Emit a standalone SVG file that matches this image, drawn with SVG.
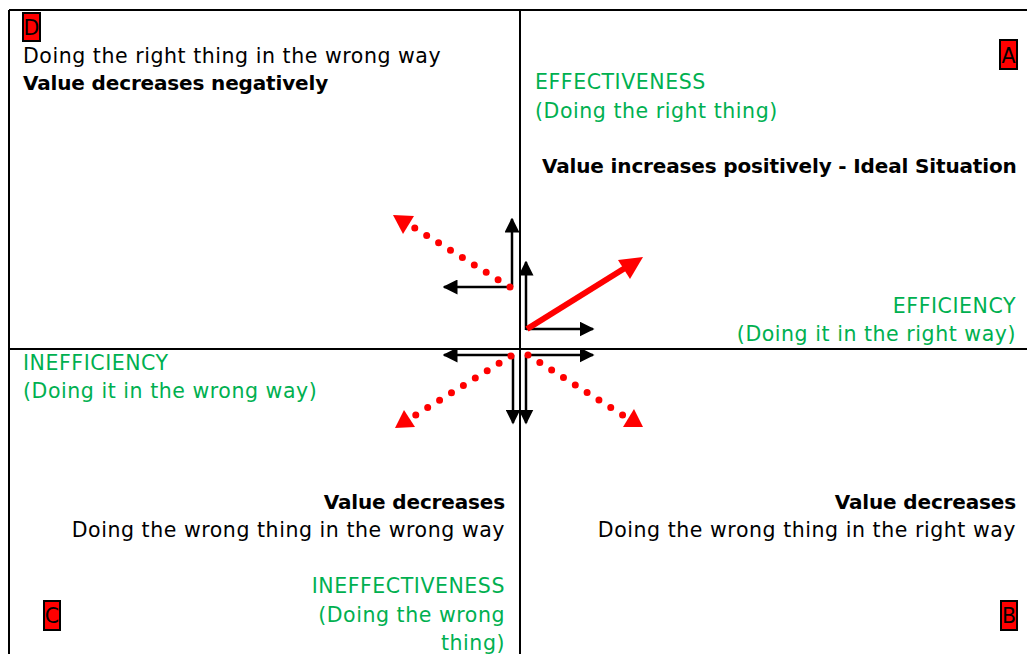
<svg xmlns="http://www.w3.org/2000/svg" width="1027" height="654" viewBox="0 0 1027 654">
<defs>
<style>
.t{font-family:"DejaVu Sans","Liberation Sans",sans-serif;font-size:20.5px;letter-spacing:0.55px;fill:#000}
.b{font-weight:bold;font-size:20px;letter-spacing:-0.15px}
.g{fill:#00B050}
.r{text-anchor:end}
.c{text-anchor:middle;letter-spacing:0}
.lbl{fill:#ff0000;stroke:#000;stroke-width:2}
.frame{stroke:#000;stroke-width:2;fill:none}
.blk{stroke:#000;stroke-width:2.5;fill:none;marker-end:url(#bh)}
.dot{stroke:#ff0000;stroke-width:7;stroke-linecap:round;stroke-dasharray:0 14;fill:none}
</style>
<marker id="bh" viewBox="0 0 10 10" refX="9" refY="5" markerUnits="userSpaceOnUse" markerWidth="15" markerHeight="15" orient="auto">
<path d="M0,0 L10,5 L0,10 Z" fill="#000"/>
</marker>
</defs>
<rect width="1027" height="654" fill="#fff"/>
<g id="frame">
<line class="frame" x1="9" y1="10" x2="1027" y2="10"/>
<line class="frame" x1="9" y1="10" x2="9" y2="654"/>
<line class="frame" x1="520" y1="10" x2="520" y2="654"/>
<line class="frame" x1="9" y1="349" x2="1027" y2="349"/>
</g>
<g id="quadD">
<rect class="lbl" x="23" y="13" width="17" height="28"/>
<text class="t c" x="31.5" y="35">D</text>
<text class="t" x="23" y="63">Doing the right thing in the wrong way</text>
<text class="t b" x="23" y="90">Value decreases negatively</text>
</g>
<g id="quadA">
<rect class="lbl" x="1000" y="40" width="17" height="29"/>
<text class="t c" x="1008.5" y="63">A</text>
<text class="t g" x="535" y="89">EFFECTIVENESS</text>
<text class="t g" x="535" y="118">(Doing the right thing)</text>
<text class="t b" x="542" y="173">Value increases positively - Ideal Situation</text>
<text class="t g r" x="1016" y="313">EFFICIENCY</text>
<text class="t g r" x="1016" y="341">(Doing it in the right way)</text>
</g>
<g id="quadC">
<text class="t g" x="23" y="370">INEFFICIENCY</text>
<text class="t g" x="23" y="398">(Doing it in the wrong way)</text>
<text class="t b r" x="505" y="509">Value decreases</text>
<text class="t r" x="505" y="537">Doing the wrong thing in the wrong way</text>
<text class="t g r" x="505" y="593">INEFFECTIVENESS</text>
<text class="t g r" x="505" y="622">(Doing the wrong</text>
<text class="t g r" x="505" y="650">thing)</text>
<rect class="lbl" x="44" y="601" width="16" height="29"/>
<text class="t c" x="52" y="623">C</text>
</g>
<g id="quadB">
<text class="t b r" x="1016" y="509">Value decreases</text>
<text class="t r" x="1016" y="537">Doing the wrong thing in the right way</text>
<rect class="lbl" x="1001" y="601" width="16" height="29"/>
<text class="t c" x="1009" y="623">B</text>
</g>
<g id="connectors">
<line class="blk" x1="512" y1="287" x2="512" y2="219"/>
<line class="blk" x1="512" y1="287" x2="444" y2="287"/>
<line class="dot" x1="510" y1="287" x2="405" y2="222"/>
<path d="M393,215 L414,216 L403,234 Z" fill="#ff0000"/>
<line class="blk" x1="526" y1="330" x2="526" y2="262"/>
<line class="blk" x1="526" y1="329" x2="593" y2="329"/>
<line x1="527" y1="329" x2="625" y2="268" stroke="#ff0000" stroke-width="6"/>
<path d="M643,257 L630,279 L618,260 Z" fill="#ff0000"/>
<line class="blk" x1="513" y1="355" x2="444" y2="355"/>
<line class="blk" x1="513" y1="355" x2="513" y2="423"/>
<line class="dot" x1="511" y1="356" x2="406" y2="421"/>
<path d="M395,428 L404,410 L415,427 Z" fill="#ff0000"/>
<line class="blk" x1="526" y1="355" x2="593" y2="355"/>
<line class="blk" x1="526" y1="355" x2="526" y2="423"/>
<line class="dot" x1="528" y1="355" x2="632" y2="421"/>
<path d="M643,427 L623,427 L634,409 Z" fill="#ff0000"/>
</g>
</svg>
